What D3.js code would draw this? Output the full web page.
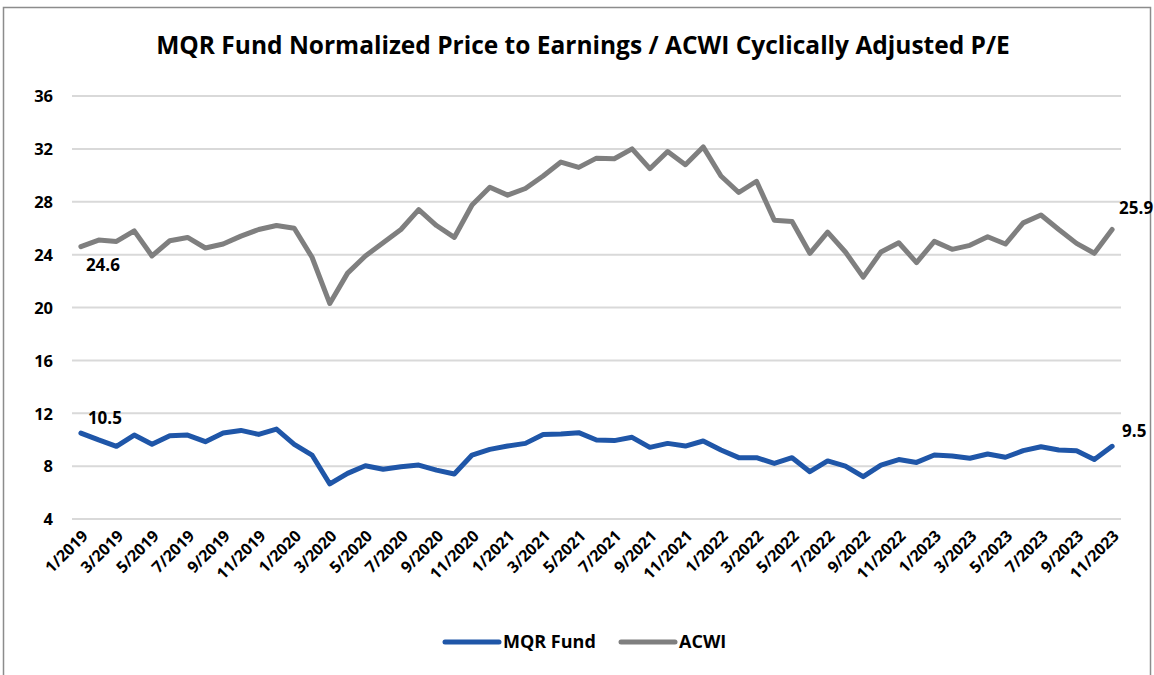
<!DOCTYPE html>
<meta charset="utf-8">
<style>
body { margin: 0; background: #fff; }
text { font-family: "Open Sans", sans-serif; font-weight: bold; fill: #000; }
.grid line { stroke: #d9d9d9; stroke-width: 2px; }
.line { fill: none; stroke-width: 5px; stroke-linejoin: round; stroke-linecap: round; }
</style>
<body>
<script src="https://cdn.jsdelivr.net/npm/d3@7"></script>
<script>

// monthly points, 1/2019 .. 11/2023
var months = [];
for (var yr = 2019; yr <= 2023; yr++) {
  for (var m = 1; m <= 12; m++) {
    if (yr == 2023 && m > 11) break;
    months.push(m + "/" + yr);
  }
}

var mqr = [10.5, 9.98, 9.5, 10.35, 9.65, 10.3, 10.35, 9.85, 10.5, 10.7, 10.4, 10.8,
           9.65, 8.84, 6.65, 7.45, 8.03, 7.76, 7.96, 8.08, 7.7, 7.4, 8.84, 9.27,
           9.52, 9.72, 10.4, 10.43, 10.53, 9.98, 9.93, 10.18, 9.42, 9.72, 9.52, 9.9,
           9.22, 8.64, 8.64, 8.2, 8.64, 7.58, 8.39, 8.0, 7.2, 8.08, 8.5, 8.28,
           8.84, 8.77, 8.6, 8.92, 8.67, 9.17, 9.47, 9.22, 9.17, 8.5, 9.5];

var acwi = [24.6, 25.1, 25.0, 25.8, 23.9, 25.05, 25.3, 24.5, 24.8, 25.4, 25.9, 26.2,
            26.0, 23.8, 20.3, 22.6, 23.9, 24.9, 25.9, 27.4, 26.2, 25.3, 27.75, 29.1,
            28.5, 29.0, 29.95, 31.0, 30.6, 31.3, 31.25, 32.0, 30.5, 31.8, 30.8, 32.15,
            29.95, 28.7, 29.55, 26.6, 26.5, 24.1, 25.7, 24.2, 22.3, 24.2, 24.9, 23.4,
            25.0, 24.4, 24.7, 25.35, 24.8, 26.4, 27.0, 25.9, 24.85, 24.1, 25.9];

var yTicks = [4, 8, 12, 16, 20, 24, 28, 32, 36];
var seriesNames = ["MQR Fund", "ACWI"];
var colors = ["#1f56a8", "#7f7f7f"];

var W = 1154, H = 675;
var plot = {left: 72, right: 1121, top: 96, bottom: 519};

var svg = d3.select("body").append("svg")
    .attr("width", W)
    .attr("height", H);

// outer frame
svg.append("rect")
    .attr("x", 3.5).attr("y", 7.5)
    .attr("width", W - 7).attr("height", H)
    .attr("fill", "none")
    .attr("stroke", "#8c8c8c")
    .attr("stroke-width", 1.5);

svg.append("text")
    .attr("x", 583).attr("y", 54)
    .attr("text-anchor", "middle")
    .style("font-size", "24.5px")
    .text("MQR Fund Normalized Price to Earnings / ACWI Cyclically Adjusted P/E");

var x = d3.scaleBand()
    .domain(months)
    .range([plot.left, plot.right]);

var y = d3.scaleLinear()
    .domain([4, 36])
    .range([plot.bottom, plot.top]);

var px = d => x(d) + x.bandwidth() / 2;

// gridlines
svg.append("g")
    .attr("class", "grid")
    .selectAll("line")
    .data(yTicks)
  .enter().append("line")
    .attr("x1", plot.left).attr("x2", plot.right)
    .attr("y1", d => y(d)).attr("y2", d => y(d));

// y axis labels
var yAxis = svg.append("g")
    .attr("transform", "translate(" + (plot.left - 19) + ",0)")
    .call(d3.axisLeft(y).tickValues(yTicks).tickSize(0).tickPadding(0));
yAxis.select(".domain").remove();
yAxis.selectAll("text")
    .style("font-size", "16.5px")
    .style("font-family", "'Open Sans', sans-serif")
    .attr("dy", "0.35em");

// x axis labels, every second month
var xAxis = svg.append("g")
    .attr("transform", "translate(0," + (plot.bottom + 14) + ")")
    .call(d3.axisBottom(x).tickValues(months.filter((d, i) => i % 2 == 0)).tickSize(0).tickPadding(0));
xAxis.select(".domain").remove();
xAxis.selectAll("text")
    .style("font-size", "16px")
    .style("font-family", "'Open Sans', sans-serif")
    .attr("text-anchor", "end")
    .attr("dy", "0.35em")
    .attr("transform", "translate(4,0) rotate(-45)");

var line = d3.line()
    .x((d, i) => px(months[i]))
    .y(d => y(d));

[mqr, acwi].forEach(function(s, k) {
  svg.append("path")
      .datum(s)
      .attr("class", "line")
      .attr("stroke", colors[k])
      .attr("d", line);
});

// end-point labels
var first = months[0], last = months[months.length - 1];
var labels = [
  {v: acwi[0], x: px(first) + 5, y: y(acwi[0]) + 24},
  {v: mqr[0], x: px(first) + 7, y: y(mqr[0]) - 9},
  {v: acwi[acwi.length - 1], x: px(last) + 7, y: y(acwi[acwi.length - 1]) - 16},
  {v: mqr[mqr.length - 1], x: px(last) + 10, y: y(mqr[mqr.length - 1]) - 9}
];
svg.selectAll(".dlabel")
    .data(labels)
  .enter().append("text")
    .attr("class", "dlabel")
    .attr("x", d => d.x).attr("y", d => d.y)
    .style("font-size", "17px")
    .text(d => d.v.toFixed(1));

// legend
var legend = svg.append("g").attr("transform", "translate(445,642)");
var lx = [0, 176];
seriesNames.forEach(function(n, k) {
  legend.append("line")
      .attr("x1", lx[k]).attr("x2", lx[k] + 54)
      .attr("stroke", colors[k])
      .attr("stroke-width", 5)
      .attr("stroke-linecap", "round");
  legend.append("text")
      .attr("x", lx[k] + 58).attr("dy", "0.35em")
      .style("font-size", "18px")
      .text(n);
});

</script>
</body>
